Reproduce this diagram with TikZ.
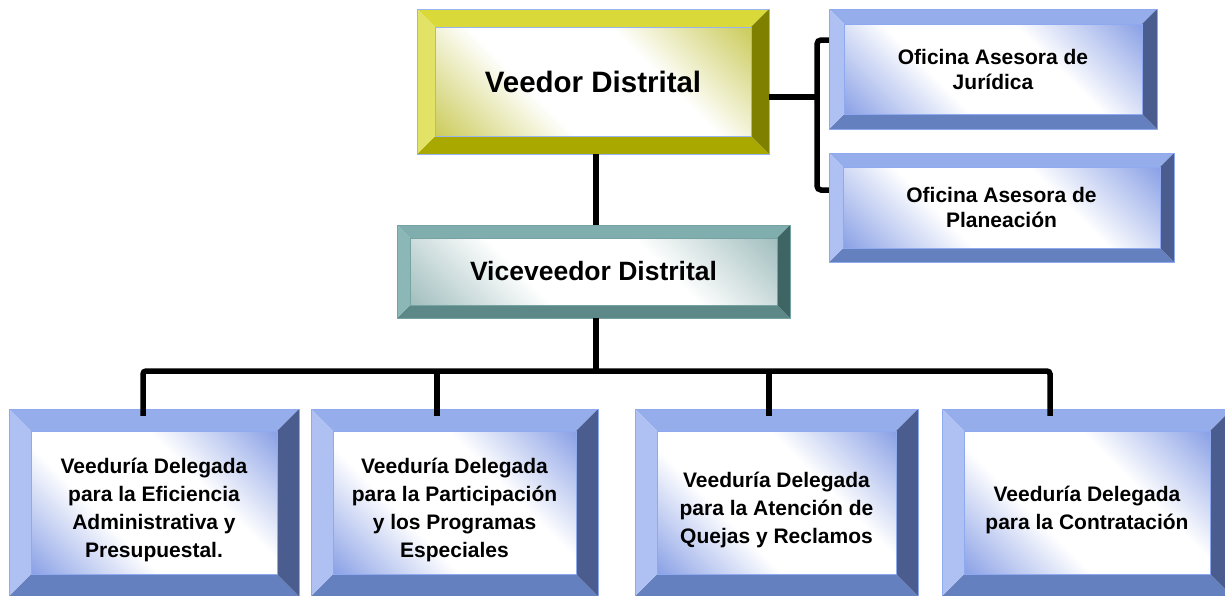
\documentclass[tikz,border=0pt]{standalone}
\usepackage{fontspec}
\setmainfont{Liberation Sans}
\usetikzlibrary{calc}
% blue scheme
\definecolor{bTop}{HTML}{95ADEA}
\definecolor{bLft}{HTML}{AEC1F2}
\definecolor{bBot}{HTML}{6580BE}
\definecolor{bRgt}{HTML}{4B5D8F}
\definecolor{bLn}{HTML}{8EA9EF}
\definecolor{bIn}{HTML}{8CA2E6}
% yellow scheme
\definecolor{yTop}{HTML}{D9D93A}
\definecolor{yLft}{HTML}{E2E266}
\definecolor{yBot}{HTML}{A9A800}
\definecolor{yRgt}{HTML}{7F7F00}
\definecolor{yLn}{HTML}{9AB4F0}
\definecolor{yIn}{HTML}{CCCC5E}
% teal scheme
\definecolor{tTop}{HTML}{80AEAE}
\definecolor{tLft}{HTML}{8CB7B7}
\definecolor{tBot}{HTML}{5C8888}
\definecolor{tRgt}{HTML}{3F6464}
\definecolor{tLn}{HTML}{76A2A2}
\definecolor{tIn}{HTML}{A3BFBF}
\pgfdeclarehorizontalshading{bshade}{100bp}{color(0bp)=(bIn); color(15bp)=(bIn); color(38bp)=(white); color(62bp)=(white); color(85bp)=(bIn); color(100bp)=(bIn)}
\pgfdeclarehorizontalshading{yshade}{100bp}{color(0bp)=(yIn); color(15bp)=(yIn); color(38bp)=(white); color(62bp)=(white); color(85bp)=(yIn); color(100bp)=(yIn)}
\pgfdeclarehorizontalshading{tshade}{100bp}{color(0bp)=(tIn); color(15bp)=(tIn); color(38bp)=(white); color(62bp)=(white); color(85bp)=(tIn); color(100bp)=(tIn)}
\tikzset{
  boxtext/.style={inner sep=0pt, align=center, text=black,
    font=\bfseries\fontsize{21}{28}\selectfont},
  lowtext/.style={yshift=-7pt},
  conn/.style={draw=black, line width=5.5pt},
}
% #1 name, #2 x1, #3 y1, #4 x2, #5 y2, #6 bevel, #7 scheme, #8 node options, #9 text
\newcommand\bevbox[9]{%
  \fill[#7Top] (#2,#3) -- (#4,#3) -- ({#4-#6},{#3+#6}) -- ({#2+#6},{#3+#6}) -- cycle;
  \fill[#7Bot] (#2,#5) -- (#4,#5) -- ({#4-#6},{#5-#6}) -- ({#2+#6},{#5-#6}) -- cycle;
  \fill[#7Lft] (#2,#3) -- ({#2+#6},{#3+#6}) -- ({#2+#6},{#5-#6}) -- (#2,#5) -- cycle;
  \fill[#7Rgt] (#4,#3) -- ({#4-#6},{#3+#6}) -- ({#4-#6},{#5-#6}) -- (#4,#5) -- cycle;
  \shade[shading=#7shade, shading angle=45] ({#2+#6},{#3+#6}) rectangle ({#4-#6},{#5-#6});
  \draw[#7Ln, line width=0.8pt] (#2,#3) rectangle (#4,#5) ({#2+#6},{#3+#6}) rectangle ({#4-#6},{#5-#6});
  \node[boxtext, minimum width={#4-#2}, minimum height={#5-#3}, #8] (#1) at ({(#2+#4)/2},{(#3+#5)/2}) {#9};
}
\begin{document}
\begin{tikzpicture}[x=1pt, y=-1pt]
\useasboundingbox (0,0) rectangle (1225,595);
\fill[white] (0,0) rectangle (1225,595);
\clip (0,0) rectangle (1225,595);

\bevbox{veedor}{417}{9}{769}{154}{18}{y}{font=\bfseries\fontsize{29.5}{34}\selectfont}{Veedor Distrital}
\bevbox{adv1}{829}{9}{1157}{129}{15}{b}{font=\bfseries\fontsize{21}{25}\selectfont}{Oficina Asesora de\\Jurídica}
\bevbox{adv2}{829}{153}{1174}{262}{14}{b}{font=\bfseries\fontsize{21}{25}\selectfont}{Oficina Asesora de\\Planeación}
\bevbox{vice}{397}{225}{790}{318}{13}{t}{font=\bfseries\fontsize{26.5}{30}\selectfont}{Viceveedor Distrital}

\bevbox{b1}{9}{409}{299}{596}{22}{b}{lowtext}{Veeduría Delegada\\para la Eficiencia\\Administrativa y\\Presupuestal.}
\bevbox{b2}{311}{409}{598}{596}{22}{b}{lowtext}{Veeduría Delegada\\para la Participación\\y los Programas\\Especiales}
\bevbox{b3}{635}{409}{918}{596}{22}{b}{lowtext}{Veeduría Delegada\\para la Atención de\\Quejas y Reclamos}
\bevbox{b4}{942}{409}{1232}{596}{22}{b}{lowtext}{Veeduría Delegada\\para la Contratación}

% connector coordinates
\coordinate (trunk) at (596,0);
\coordinate (busL) at (143,371);
\coordinate (busR) at (1050,371);
\coordinate (tap2) at (437,371);
\coordinate (tap3) at (769,371);
\coordinate (brkM) at (817,97);
\coordinate (brkT) at (817,40);
\coordinate (brkB) at (817,190);

\draw[conn] (veedor.south -| trunk) -- (vice.north -| trunk);
\draw[conn] (vice.south -| trunk) -- (busL -| trunk);
\draw[conn, rounded corners=3pt] (b1.north -| busL) -- (busL) -- (busR) -- (b4.north -| busR);
\draw[conn] (tap2) -- (tap2 |- b2.north);
\draw[conn] (tap3) -- (tap3 |- b3.north);
\draw[conn] (veedor.east |- brkM) -- (brkM);
\draw[conn, rounded corners=4pt] (adv1.west |- brkT) -- (brkT) -- (brkB) -- (adv2.west |- brkB);
\end{tikzpicture}
\end{document}
